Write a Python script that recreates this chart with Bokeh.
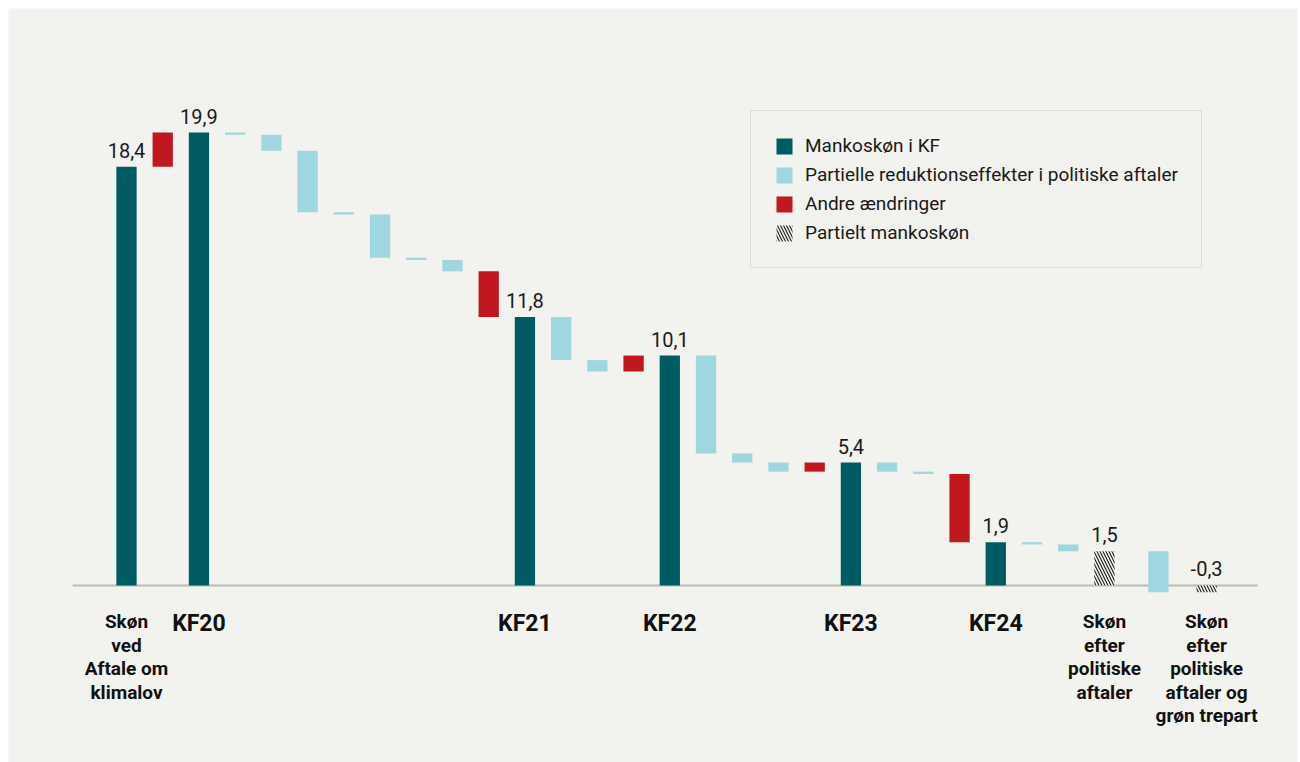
from bokeh.plotting import figure
from bokeh.models import ColumnDataSource, Legend, LegendItem
from bokeh.core.properties import value
from bokeh.embed import file_html
from bokeh.resources import INLINE

# ---------------- data ----------------
kinds = ["total", "other", "total",
         "effect", "effect", "effect", "effect", "effect", "effect", "effect",
         "other", "total",
         "effect", "effect", "other", "total",
         "effect", "effect", "effect", "other", "total",
         "effect", "effect", "other", "total",
         "effect", "effect", "partial",
         "effect", "partial"]
amounts = [18.4, 1.5, 19.9,
           -0.1, -0.7, -2.7, -0.1, -1.9, -0.1, -0.5,
           -2.0, 11.8,
           -1.9, -0.5, 0.7, 10.1,
           -4.3, -0.4, -0.4, 0.4, 5.4,
           -0.4, -0.1, -3.0, 1.9,
           -0.1, -0.3, 1.5,
           -1.8, -0.3]
slots = list(range(28)) + [28.49, 29.82]
bottom_labels = ["Skøn\nved\nAftale om\nklimalov", "", "KF20",
                 "", "", "", "", "", "", "", "", "KF21",
                 "", "", "", "KF22",
                 "", "", "", "", "KF23",
                 "", "", "", "KF24",
                 "", "", "Skøn\nefter\npolitiske\naftaler",
                 "", "Skøn\nefter\npolitiske\naftaler og\ngrøn trepart"]
legend_names = {"total": "Mankoskøn i KF",
                "effect": "Partielle reduktionseffekter i politiske aftaler",
                "other": "Andre ændringer",
                "partial": "Partielt mankoskøn"}

# ---------------- styling ----------------
BG = "#f2f2ee"
COLORS = {"total": "#005c63", "effect": "#9fd6df", "other": "#c1171f", "partial": BG}
FONT = "Roboto"

# ---------------- waterfall geometry from data ----------------
level = 0.0
bottoms, tops = [], []
for k, a in zip(kinds, amounts):
    if k in ("total", "partial"):
        b, t = 0.0, a
        level = a
    else:
        b, t = level, level + a
        level = level + a
    bottoms.append(min(b, t))
    tops.append(max(b, t))

p = figure(width=1300, height=762, x_range=(-3.258, 32.33), y_range=(-7.78, 25.35),
           output_backend="svg", toolbar_location=None,
           min_border_left=8, min_border_top=8, min_border_right=3, min_border_bottom=0,
           x_axis_location=None, y_axis_location=None,
           background_fill_color=BG, border_fill_color="white", outline_line_color=None)
p.grid.visible = False

# baseline
p.segment(x0=[slots[0] - 1.49], x1=[slots[-1] + 1.41], y0=[0], y1=[0],
          line_color="#bcbcb6", line_width=2)

renderers = {}
for k in ["total", "effect", "other", "partial"]:
    idx = [i for i, kk in enumerate(kinds) if kk == k]
    src = ColumnDataSource(dict(x=[slots[i] for i in idx],
                                top=[tops[i] for i in idx],
                                bottom=[bottoms[i] for i in idx]))
    if k == "partial":
        r = p.vbar(x="x", top="top", bottom="bottom", width=0.56, source=src,
                   fill_color=BG, fill_alpha=1, line_color=None,
                   hatch_pattern="left_diagonal_line", hatch_color="#1a1a1a",
                   hatch_scale=6, hatch_weight=1.1)
    else:
        r = p.vbar(x="x", top="top", bottom="bottom", width=0.56, source=src,
                   fill_color=COLORS[k], line_color=None)
    renderers[k] = r

# value labels on totals and partials
vi = [i for i, k in enumerate(kinds) if k in ("total", "partial")]
lab_src = ColumnDataSource(dict(
    x=[slots[i] for i in vi],
    y=[max(0.0, amounts[i]) for i in vi],
    t=[f"{amounts[i]:.1f}".replace(".", ",") for i in vi]))
p.text(x="x", y="y", text="t", source=lab_src, text_align="center",
       text_baseline="bottom", y_offset=-9, text_font=value(FONT),
       text_font_size="20px", text_color="#1a1a1a")

# category labels under baseline
kf_i = [i for i, s in enumerate(bottom_labels) if s.startswith("KF")]
sk_i = [i for i, s in enumerate(bottom_labels) if s and not s.startswith("KF")]
p.text(x=[slots[i] for i in kf_i], y=[0] * len(kf_i), text=[bottom_labels[i] for i in kf_i],
       text_align="center", text_baseline="top", y_offset=25,
       text_font=value(FONT), text_font_style="bold", text_font_size="23px",
       text_color="#111111")
p.text(x=[slots[i] for i in sk_i], y=[0] * len(sk_i), text=[bottom_labels[i] for i in sk_i],
       text_align="center", text_baseline="top", y_offset=25,
       text_font=value(FONT), text_font_style="bold", text_font_size="19px",
       text_line_height=1.02, text_color="#111111")

legend = Legend(items=[LegendItem(label=legend_names[k], renderers=[renderers[k]])
                       for k in ["total", "effect", "other", "partial"]],
                location=(742, 494), margin=0, padding=23, spacing=6,
                glyph_width=20, glyph_height=20, label_height=20, label_standoff=11,
                label_text_font=FONT, label_text_font_size="19px",
                label_text_color="#1a1a1a",
                border_line_color="#c4c4c4", border_line_width=1.5,
                background_fill_color=BG, background_fill_alpha=1)
p.add_layout(legend)

open("out.html", "w").write(file_html(p, INLINE))
